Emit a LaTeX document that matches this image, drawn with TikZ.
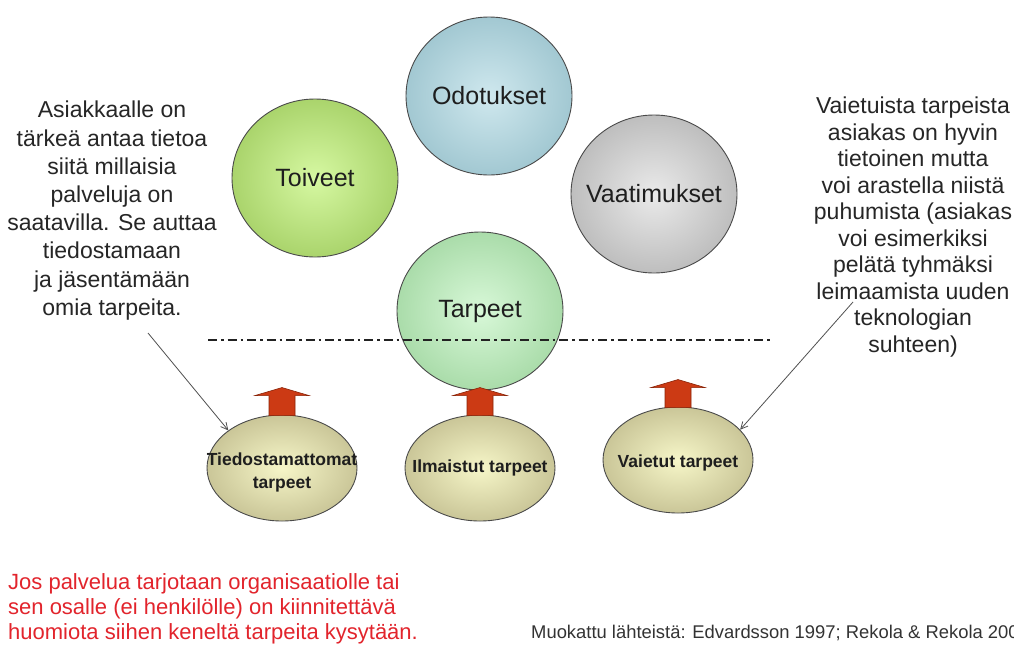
\documentclass[tikz,border=0pt]{standalone}
\usepackage{fontspec}
\setmainfont{Liberation Sans}
\usetikzlibrary{shapes.geometric,arrows.meta}
\definecolor{ballline}{HTML}{4A4A4A}
\definecolor{labeltext}{HTML}{1E1E1E}
\definecolor{notetext}{HTML}{262626}
\definecolor{odoin}{HTML}{CFE8EE}
\definecolor{odoout}{HTML}{A2C8D2}
\definecolor{toiin}{HTML}{D6F8A2}
\definecolor{toiout}{HTML}{AAD46C}
\definecolor{vaain}{HTML}{EAEAEA}
\definecolor{vaaout}{HTML}{BEBEBE}
\definecolor{tarin}{HTML}{D8F8D8}
\definecolor{tarout}{HTML}{AADCAA}
\definecolor{khin}{HTML}{F6F6C8}
\definecolor{khout}{HTML}{CAC698}
\definecolor{arrowred}{HTML}{CC3A14}
\definecolor{arrowdark}{HTML}{8A2408}
\definecolor{linedark}{HTML}{222222}
\definecolor{pointercol}{HTML}{505050}
\definecolor{redtext}{HTML}{E2242C}
\definecolor{srctext}{HTML}{333333}
\begin{document}
\begin{tikzpicture}[x=1pt,y=-1pt,
  bigball/.style={ellipse, draw=ballline, line width=0.9pt, minimum width=166pt, minimum height=158pt,
    inner sep=0pt, shading=radial},
  smallball/.style={ellipse, draw=ballline, line width=0.9pt, minimum width=150pt, minimum height=106pt,
    inner sep=0pt, shading=radial, inner color=khin, outer color=khout},
  biglabel/.style={inner sep=0pt, font=\fontsize{25}{30}\selectfont, text=labeltext},
  smalllabel/.style={inner sep=0pt, font=\bfseries\fontsize{17.5}{23}\selectfont, text=labeltext, align=center},
  note/.style={align=center, text=notetext, inner sep=0pt, anchor=north},
  pointer/.style={draw=pointercol, line width=0.8pt, -{Straight Barb[length=7pt,width=7pt]}},
  blockarrow/.style={fill=arrowred, draw=arrowdark, line width=0.6pt},
  dashdot/.style={draw=linedark, line width=2pt, dash pattern=on 9pt off 4pt on 2.5pt off 4pt}]
\useasboundingbox (0,0) rectangle (1014,651);
\clip (0,0) rectangle (1014,651);
\fill[white] (0,0) rectangle (1014,651);

% top circles
\node[bigball, inner color=odoin, outer color=odoout] (odo) at (489,96) {};
\node[bigball, inner color=toiin, outer color=toiout] (toi) at (315,178) {};
\node[bigball, inner color=vaain, outer color=vaaout] (vaa) at (654,194) {};
\node[bigball, inner color=tarin, outer color=tarout] (tar) at (480,311) {};
\node[biglabel] (odot) at (odo) {Odotukset};
\node[biglabel] (toit) at (toi) {Toiveet};
\node[biglabel] (vaat) at (vaa) {Vaatimukset};
\node[biglabel] (tart) at (tar) {Tarpeet};

% dash-dot line
\coordinate (dl) at (208,340);
\coordinate (dr) at (770,340);
\draw[dashdot] (dl) -- (dr);

% bottom circles
\node[smallball] (tied) at (282,468) {};
\node[smallball] (ilm) at (480,468) {};
\node[smallball] (vaiet) at (678,460) {};
\node[smalllabel] (tiedt) at (282,472) {Tiedostamattomat\\tarpeet};
\node[smalllabel] (ilmt) at (ilm) {Ilmaistut tarpeet};
\node[smalllabel] (vaiett) at (678,463) {Vaietut tarpeet};

% red block arrows
\foreach \n in {tied,ilm,vaiet}{
  \path[blockarrow, shift={(\n.north)}] (-13,1) -- (-13,-19) -- (-27,-19) -- (0,-27) -- (27,-19) -- (13,-19) -- (13,1) -- cycle;
}

% notes
\node[note, font=\fontsize{23}{28.2}\selectfont] (lnote) at (112,101) {Asiakkaalle on\\tärkeä antaa tietoa\\siitä millaisia\\palveluja on\\saatavilla. Se auttaa\\tiedostamaan\\ja jäsentämään\\omia tarpeita.};
\node[note, font=\fontsize{23}{26.5}\selectfont] (rnote) at (913,97) {Vaietuista tarpeista\\asiakas on hyvin\\tietoinen mutta\\voi arastella niistä\\puhumista (asiakas\\voi esimerkiksi\\pelätä tyhmäksi\\leimaamista uuden\\teknologian\\suhteen)};

% pointers
\coordinate (lp) at (148,333);
\coordinate (rp) at (853,302);
\draw[pointer] (lp) -- (tied.145);
\draw[pointer] (rp) -- (vaiet.26);

% bottom texts
\node[anchor=north west, align=left, inner sep=0pt, text=redtext, font=\fontsize{22}{25}\selectfont] (red) at (8,573)
  {Jos palvelua tarjotaan organisaatiolle tai\\sen osalle (ei henkilölle) on kiinnitettävä\\huomiota siihen keneltä tarpeita kysytään.};
\node[anchor=base west, inner sep=0pt, text=srctext, font=\fontsize{18.4}{21}\selectfont] (src) at (531,638)
  {Muokattu lähteistä: Edvardsson 1997; Rekola \& Rekola 200};
\end{tikzpicture}
\end{document}
